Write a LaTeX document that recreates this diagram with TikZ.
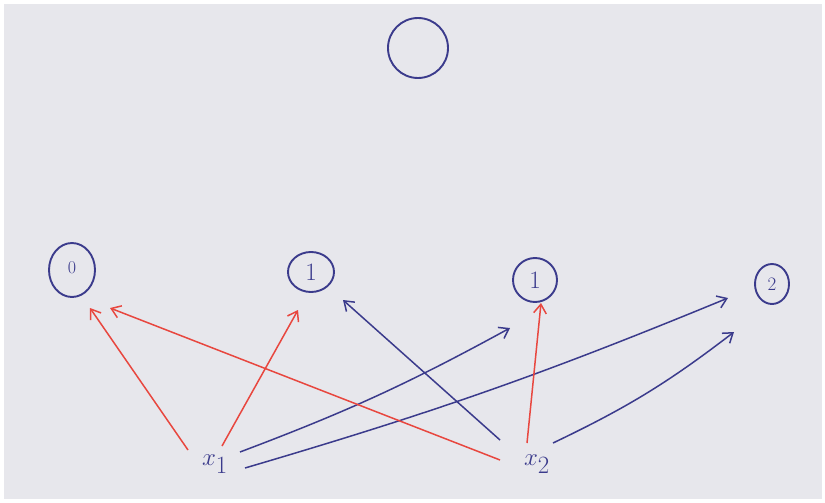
\documentclass[tikz,border=0pt]{standalone}
\usetikzlibrary{shapes.geometric,arrows.meta,calc}
\definecolor{paper}{HTML}{E7E7EC}
\definecolor{ink}{HTML}{3B3B8C}
\definecolor{redink}{HTML}{E8473F}
\tikzset{
  unit/.style={ellipse, draw=ink, line width=1.9pt, inner sep=0pt, text=ink, font=\fontsize{25}{28}\selectfont},
  inlabel/.style={text=ink, font=\fontsize{36}{40}\selectfont},
  redarrow/.style={draw=redink, line width=1.5pt, -{Straight Barb[angle=70:11pt,line width=1.5pt]}},
  bluearrow/.style={draw=ink, line width=1.5pt, -{Straight Barb[angle=70:11pt,line width=1.5pt]}}
}
\begin{document}
\begin{tikzpicture}[x=1pt,y=-1pt]
  % page and paper
  \fill[white] (0,0) rectangle (825,503);
  \fill[paper] (4,4) rectangle (822,499);
  \useasboundingbox (0,0) rectangle (825,503);

  % output unit
  \node[unit, minimum width=60pt, minimum height=60pt] (out) at (418,48) {};

  % hidden units
  \node[unit, minimum width=46pt, minimum height=54pt, font=\fontsize{18}{20}\selectfont] (n0) at (72,270) {\raisebox{5pt}{0}};
  \node[unit, minimum width=46pt, minimum height=40pt] (n1a) at (311,272) {1};
  \node[unit, minimum width=44pt, minimum height=44pt] (n1b) at (535,280) {1};
  \node[unit, minimum width=34pt, minimum height=40pt, font=\fontsize{19}{22}\selectfont] (n2) at (772,284) {2};

  % inputs
  \node[inlabel] (x1) at (215,464) {$x_1$};
  \node[inlabel] (x2) at (537,464) {$x_2$};

  % weights from x1
  \draw[redarrow]  ($(x1)+(-27,-14)$) -- ($(n0)+(18,38)$);
  \draw[redarrow]  ($(x1)+(7,-18)$)   -- ($(n1a)+(-13,38)$);
  \draw[bluearrow] ($(x1)+(25,-12)$)  to[bend right=4] ($(n1b)+(-25,48)$);
  \draw[bluearrow] ($(x1)+(30,4)$)    to[bend right=3] ($(n2)+(-44,14)$);

  % weights from x2
  \draw[redarrow]  ($(x2)+(-37,-4)$)  -- ($(n0)+(38,38)$);
  \draw[bluearrow] ($(x2)+(-37,-24)$) -- ($(n1a)+(32,28)$);
  \draw[redarrow]  ($(x2)+(-10,-21)$) -- ($(n1b)+(6,23)$);
  \draw[bluearrow] ($(x2)+(16,-21)$)  to[bend right=6] ($(n2)+(-38,48)$);
\end{tikzpicture}
\end{document}
